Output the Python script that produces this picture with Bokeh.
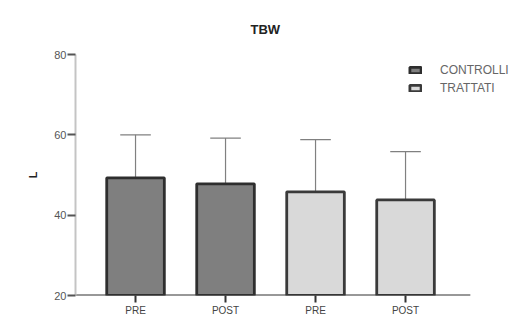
from bokeh.plotting import figure
from bokeh.models import Range1d, FixedTicker, Legend, LegendItem, ColumnDataSource
from bokeh.embed import file_html
from bokeh.resources import INLINE

# Data
positions = [1, 2, 3, 4]
tick_labels = ["PRE", "POST", "PRE", "POST"]
means = [49.3, 47.8, 45.8, 43.8]
upper = [60.0, 59.2, 58.8, 55.8]
colors = ["#7f7f7f", "#7f7f7f", "#d9d9d9", "#d9d9d9"]
y_ticks = [20, 40, 60, 80]

x_start, x_end = 0.333, 5.344
axis_end = 4.72

p = figure(width=526, height=318, output_backend="svg", toolbar_location=None,
           x_range=Range1d(x_start, x_end), y_range=Range1d(20, 80),
           min_border_left=75, min_border_right=0, min_border_top=54, min_border_bottom=23)

p.title.text = "TBW"
p.title.align = "left"
p.title.text_font = "Liberation Sans"
p.title.text_font_size = "13px"
p.title.text_color = "#222222"
p.title.standoff = 36
p.title.offset = 175

p.grid.visible = False
p.outline_line_color = None
p.background_fill_color = "white"

src_c = ColumnDataSource(dict(x=positions[:2], top=means[:2], up=upper[:2], color=colors[:2]))
src_t = ColumnDataSource(dict(x=positions[2:], top=means[2:], up=upper[2:], color=colors[2:]))

# error bars (upper only)
for src in (src_c, src_t):
    p.segment(x0="x", y0="top", x1="x", y1="up", source=src, line_color="#808080", line_width=1.2)

cap = 0.17
p.segment(x0=[x - cap for x in positions], y0=upper, x1=[x + cap for x in positions], y1=upper,
          line_color="#808080", line_width=1.3)

rc = p.vbar(x="x", top="top", bottom=20, width=0.64, source=src_c, fill_color="color",
            line_color="#2e2e2e", line_width=2.8)
rt = p.vbar(x="x", top="top", bottom=20, width=0.64, source=src_t, fill_color="color",
            line_color="#3a3a3a", line_width=2.8)

# x axis baseline (only up to the last category)
p.segment(x0=[x_start], y0=[20], x1=[axis_end], y1=[20], line_color="#333333", line_width=2)

# axes
p.xaxis.ticker = FixedTicker(ticks=positions)
p.xaxis.major_label_overrides = {pos: lab for pos, lab in zip(positions, tick_labels)}
p.xaxis.axis_line_color = None
p.xaxis.major_tick_line_color = "#333333"
p.xaxis.major_tick_line_width = 2
p.xaxis.major_tick_out = 7
p.xaxis.major_tick_in = 0
p.xaxis.minor_tick_line_color = None
p.xaxis.major_label_standoff = 2
p.xaxis.major_label_text_font = "Liberation Sans"
p.xaxis.major_label_text_font_size = "10px"
p.xaxis.major_label_text_color = "#444444"

p.yaxis.ticker = FixedTicker(ticks=y_ticks)
p.yaxis.axis_line_color = "#c4c4c4"
p.yaxis.axis_line_width = 2
p.yaxis.major_tick_line_color = "#555555"
p.yaxis.major_tick_line_width = 2
p.yaxis.major_tick_out = 8
p.yaxis.major_tick_in = 0
p.yaxis.minor_tick_line_color = None
p.yaxis.major_label_standoff = 1
p.yaxis.major_label_text_font = "Liberation Sans"
p.yaxis.major_label_text_font_size = "11px"
p.yaxis.major_label_text_color = "#555555"
p.yaxis.axis_label = "L"
p.yaxis.axis_label_text_font = "Liberation Sans"
p.yaxis.axis_label_text_font_style = "bold"
p.yaxis.axis_label_text_font_size = "11px"
p.yaxis.axis_label_text_color = "#222222"
p.yaxis.axis_label_standoff = 12

legend = Legend(items=[LegendItem(label="CONTROLLI", renderers=[rc]),
                       LegendItem(label="TRATTATI", renderers=[rt])],
                location=(333, 200))
legend.border_line_color = None
legend.background_fill_alpha = 0
legend.label_text_font = "Liberation Sans"
legend.label_text_font_size = "12px"
legend.label_text_color = "#666666"
legend.glyph_width = 14
legend.glyph_height = 8
legend.label_height = 14
legend.spacing = 4
legend.padding = 2
legend.margin = 0
legend.label_standoff = 18
p.add_layout(legend)

open("out.html", "w").write(file_html(p, INLINE))
